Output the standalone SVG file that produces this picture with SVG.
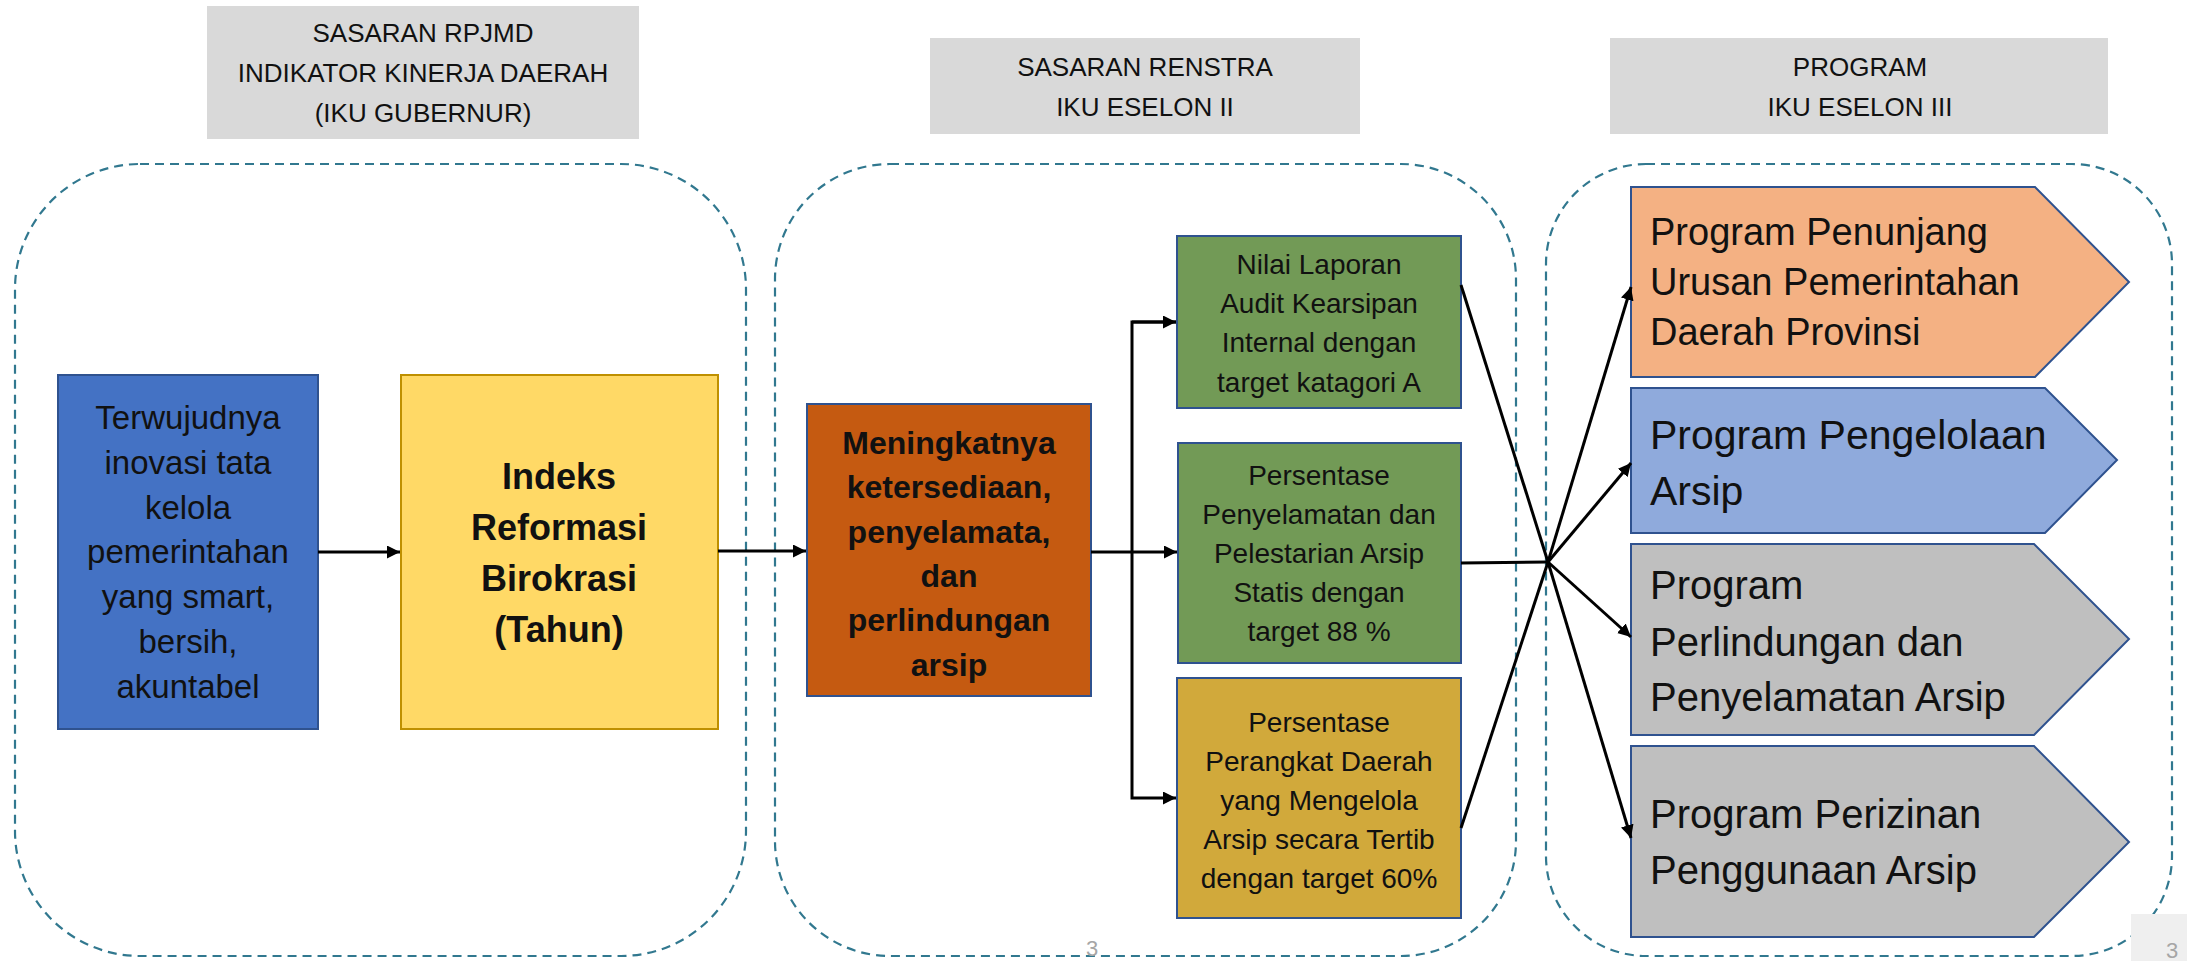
<svg xmlns="http://www.w3.org/2000/svg" width="2187" height="961" viewBox="0 0 2187 961">
<style>
.hdr{fill:#D9D9D9}
.ht{font-family:"Liberation Sans",Arial,sans-serif;font-size:26px;fill:#111;text-anchor:middle}
.cont{fill:none;stroke:#31788F;stroke-width:2.2;stroke-dasharray:9 6}
.t{font-family:"Liberation Sans",Arial,sans-serif;fill:#111;text-anchor:middle}
.tl{font-family:"Liberation Sans",Arial,sans-serif;fill:#111}
.b{font-weight:bold}
.box{stroke:#2F528F;stroke-width:2}
.con{fill:none;stroke:#000;stroke-width:3}
.pg{font-family:"Liberation Sans",Arial,sans-serif;font-size:22px;fill:#A6A6A6;text-anchor:middle}
</style>
<defs>
<marker id="ah" viewBox="0 0 10 10" refX="10" refY="5" markerWidth="13" markerHeight="13" markerUnits="userSpaceOnUse" orient="auto">
<path d="M0,0 L10,5 L0,10 z" fill="#000"/>
</marker>
</defs>
<rect width="2187" height="961" fill="#fff"/>

<g id="header1">
<rect class="hdr" x="207" y="6" width="432" height="133"/>
<text class="ht" x="423" y="42">SASARAN RPJMD</text>
<text class="ht" x="423" y="82">INDIKATOR KINERJA DAERAH</text>
<text class="ht" x="423" y="122">(IKU GUBERNUR)</text>
</g>
<g id="header2">
<rect class="hdr" x="930" y="38" width="430" height="96"/>
<text class="ht" x="1145" y="76">SASARAN RENSTRA</text>
<text class="ht" x="1145" y="116">IKU ESELON II</text>
</g>
<g id="header3">
<rect class="hdr" x="1610" y="38" width="498" height="96"/>
<text class="ht" x="1860" y="76">PROGRAM</text>
<text class="ht" x="1860" y="116">IKU ESELON III</text>
</g>

<g id="containers">
<rect class="cont" x="15" y="164" width="731" height="792" rx="125" ry="125"/>
<rect class="cont" x="775" y="164" width="741" height="792" rx="115" ry="115"/>
<rect class="cont" x="1546" y="164" width="626" height="792" rx="100" ry="100"/>
</g>

<g id="n-terwujudnya">
<rect class="box" x="58" y="375" width="260" height="354" fill="#4472C4"/>
<g class="t" font-size="33">
<text x="188" y="429">Terwujudnya</text>
<text x="188" y="474">inovasi tata</text>
<text x="188" y="519">kelola</text>
<text x="188" y="563">pemerintahan</text>
<text x="188" y="608">yang smart,</text>
<text x="188" y="653">bersih,</text>
<text x="188" y="698">akuntabel</text>
</g>
</g>

<g id="n-indeks">
<rect x="401" y="375" width="317" height="354" fill="#FFD966" stroke="#BF9000" stroke-width="2"/>
<g class="t b" font-size="36">
<text x="559" y="489">Indeks</text>
<text x="559" y="540">Reformasi</text>
<text x="559" y="591">Birokrasi</text>
<text x="559" y="642">(Tahun)</text>
</g>
</g>

<g id="n-meningkatnya">
<rect class="box" x="807" y="404" width="284" height="292" fill="#C55A11"/>
<g class="t b" font-size="32">
<text x="949" y="454">Meningkatnya</text>
<text x="949" y="498">ketersediaan,</text>
<text x="949" y="543">penyelamata,</text>
<text x="949" y="587">dan</text>
<text x="949" y="631">perlindungan</text>
<text x="949" y="676">arsip</text>
</g>
</g>

<g id="n-nilai">
<rect class="box" x="1177" y="236" width="284" height="172" fill="#729A56"/>
<g class="t" font-size="28">
<text x="1319" y="274">Nilai Laporan</text>
<text x="1319" y="313">Audit Kearsipan</text>
<text x="1319" y="352">Internal dengan</text>
<text x="1319" y="392">target katagori A</text>
</g>
</g>

<g id="n-persentase-penyelamatan">
<rect class="box" x="1178" y="443" width="283" height="220" fill="#729A56"/>
<g class="t" font-size="28">
<text x="1319" y="485">Persentase</text>
<text x="1319" y="524">Penyelamatan dan</text>
<text x="1319" y="563">Pelestarian Arsip</text>
<text x="1319" y="602">Statis dengan</text>
<text x="1319" y="641">target 88 %</text>
</g>
</g>

<g id="n-persentase-perangkat">
<rect class="box" x="1177" y="678" width="284" height="240" fill="#D1A93B"/>
<g class="t" font-size="28">
<text x="1319" y="732">Persentase</text>
<text x="1319" y="771">Perangkat Daerah</text>
<text x="1319" y="810">yang Mengelola</text>
<text x="1319" y="849">Arsip secara Tertib</text>
<text x="1319" y="888">dengan target 60%</text>
</g>
</g>

<g id="p-penunjang">
<path class="box" d="M1631,187 H2035 L2129,282 L2035,377 H1631 Z" fill="#F4B183" stroke-width="1.5"/>
<g class="tl" font-size="38">
<text x="1650" y="245">Program Penunjang</text>
<text x="1650" y="295">Urusan Pemerintahan</text>
<text x="1650" y="345">Daerah Provinsi</text>
</g>
</g>

<g id="p-pengelolaan">
<path class="box" d="M1631,388 H2045 L2117,460 L2045,533 H1631 Z" fill="#8FAADC" stroke-width="1.5"/>
<g class="tl" font-size="41">
<text x="1650" y="449">Program Pengelolaan</text>
<text x="1650" y="505">Arsip</text>
</g>
</g>

<g id="p-perlindungan">
<path class="box" d="M1631,544 H2034 L2129,639 L2034,735 H1631 Z" fill="#BFBFBF" stroke-width="1.5"/>
<g class="tl" font-size="40">
<text x="1650" y="599">Program</text>
<text x="1650" y="656">Perlindungan dan</text>
<text x="1650" y="711">Penyelamatan Arsip</text>
</g>
</g>

<g id="p-perizinan">
<path class="box" d="M1631,746 H2034 L2129,842 L2034,937 H1631 Z" fill="#BFBFBF" stroke-width="1.5"/>
<g class="tl" font-size="40">
<text x="1650" y="828">Program Perizinan</text>
<text x="1650" y="884">Penggunaan Arsip</text>
</g>
</g>

<g id="connectors">
<line class="con" x1="318" y1="552" x2="400" y2="552" marker-end="url(#ah)"/>
<line class="con" x1="718" y1="551" x2="806" y2="551" marker-end="url(#ah)"/>
<line class="con" x1="1091" y1="552" x2="1177" y2="552" marker-end="url(#ah)"/>
<polyline class="con" points="1176,322 1132,322 1132,798 1176,798" marker-end="url(#ah)"/>
<line class="con" x1="1132" y1="322" x2="1176" y2="322" marker-end="url(#ah)"/>
<line class="con" x1="1461" y1="285" x2="1548" y2="562"/>
<line class="con" x1="1461" y1="563" x2="1548" y2="562"/>
<line class="con" x1="1461" y1="828" x2="1548" y2="562"/>
<line class="con" x1="1548" y1="562" x2="1631" y2="287" marker-end="url(#ah)"/>
<line class="con" x1="1548" y1="562" x2="1631" y2="463" marker-end="url(#ah)"/>
<line class="con" x1="1548" y1="562" x2="1631" y2="637" marker-end="url(#ah)"/>
<line class="con" x1="1548" y1="562" x2="1631" y2="838" marker-end="url(#ah)"/>
</g>

<g id="page-numbers">
<text class="pg" x="1092" y="956">3</text>
<rect x="2131" y="914" width="56" height="47" fill="#EFEFEF"/>
<text class="pg" x="2172" y="958">3</text>
</g>
</svg>
